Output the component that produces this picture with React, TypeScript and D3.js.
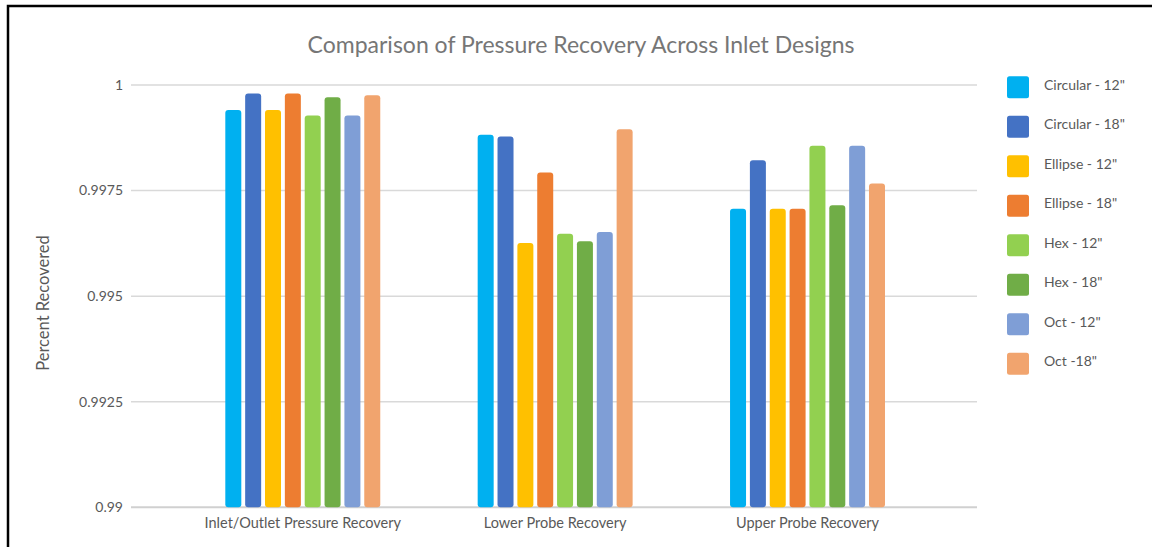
import React from "react";
import * as d3 from "d3";

const categories = ["Inlet/Outlet Pressure Recovery", "Lower Probe Recovery", "Upper Probe Recovery"];
const seriesNames = ["Circular - 12\"", "Circular - 18\"", "Ellipse - 12\"", "Ellipse - 18\"", "Hex - 12\"", "Hex - 18\"", "Oct - 12\"", "Oct -18\""];
const seriesColors = ["#00B0F0", "#4472C4", "#FFC000", "#ED7D31", "#92D050", "#70AD47", "#7F9ED6", "#F1A46E"];
// values per series, ordered by category
const circular12 = [0.99941, 0.99882, 0.99707];
const circular18 = [0.9998, 0.99878, 0.99822];
const ellipse12 = [0.99941, 0.99626, 0.99707];
const ellipse18 = [0.9998, 0.99793, 0.99707];
const hex12 = [0.99928, 0.99648, 0.99856];
const hex18 = [0.99971, 0.9963, 0.99715];
const oct12 = [0.99928, 0.99652, 0.99856];
const oct18 = [0.99976, 0.99895, 0.99767];
const yTicks = [0.99, 0.9925, 0.995, 0.9975, 1];
const yTickLabels = ["0.99", "0.9925", "0.995", "0.9975", "1"];

const seriesValues = [circular12, circular18, ellipse12, ellipse18, hex12, hex18, oct12, oct18];

const W = 1152;
const H = 547;
const FONT = "Lato, 'Open Sans', sans-serif";

export default function App() {
  const y = d3.scaleLinear().domain([0.99, 1]).range([507.3, 85]);
  const x0 = d3.scaleBand<string>().domain(categories).range([176.6, 933.7]).paddingInner(0.386).paddingOuter(0.193);
  const x1 = d3.scaleBand<string>().domain(seriesNames).range([0, x0.bandwidth()]).paddingInner(0.194).paddingOuter(0);
  const gridX0 = 131;
  const gridX1 = 977;

  return (
    <svg width={W} height={H} style={{ position: "absolute", left: 0, top: 0, background: "#fff" }}>
      <rect x={0} y={0} width={W} height={H} fill="#fff" />
      <rect x={8} y={6} width={W + 20} height={H + 20} fill="none" stroke="#000" strokeWidth={2.5} />
      <text x={581} y={53} textAnchor="middle" fontFamily={FONT} fontSize={23} fill="#767676">
        Comparison of Pressure Recovery Across Inlet Designs
      </text>
      {yTicks.map((t, i) => (
        <g key={t}>
          <line x1={gridX0} x2={gridX1} y1={y(t)} y2={y(t)} stroke={i === 0 ? "#d0d0d0" : "#d9d9d9"} strokeWidth={i === 0 ? 2 : 1.5} />
          <text x={123} y={y(t)} dy="0.35em" textAnchor="end" fontFamily={FONT} fontSize={14} fill="#595959">
            {yTickLabels[i]}
          </text>
        </g>
      ))}
      <text transform={`translate(43,303) rotate(-90)`} textAnchor="middle" dy="0.35em" fontFamily={FONT} fontSize={16.5} fill="#595959">
        Percent Recovered
      </text>
      {categories.map((c, ci) => (
        <g key={c}>
          {seriesNames.map((s, si) => {
            const v = seriesValues[si][ci];
            const bx = (x0(c) as number) + (x1(s) as number);
            return (
              <rect key={s} x={bx} y={y(v)} width={x1.bandwidth()} height={y(0.99) - y(v)} rx={3} fill={seriesColors[si]} />
            );
          })}
          <text x={(x0(c) as number) + x0.bandwidth() / 2} y={523} dy="0.35em" textAnchor="middle" fontFamily={FONT} fontSize={14.5} fill="#595959">
            {c}
          </text>
        </g>
      ))}
      {seriesNames.map((s, si) => (
        <g key={s} transform={`translate(1007,${87.3 + si * 39.5})`}>
          <rect x={0} y={-11} width={22} height={22} rx={2.5} fill={seriesColors[si]} />
          <text x={37} y={-2.3} dy="0.35em" fontFamily={FONT} fontSize={14} fill="#595959">
            {s}
          </text>
        </g>
      ))}
    </svg>
  );
}
